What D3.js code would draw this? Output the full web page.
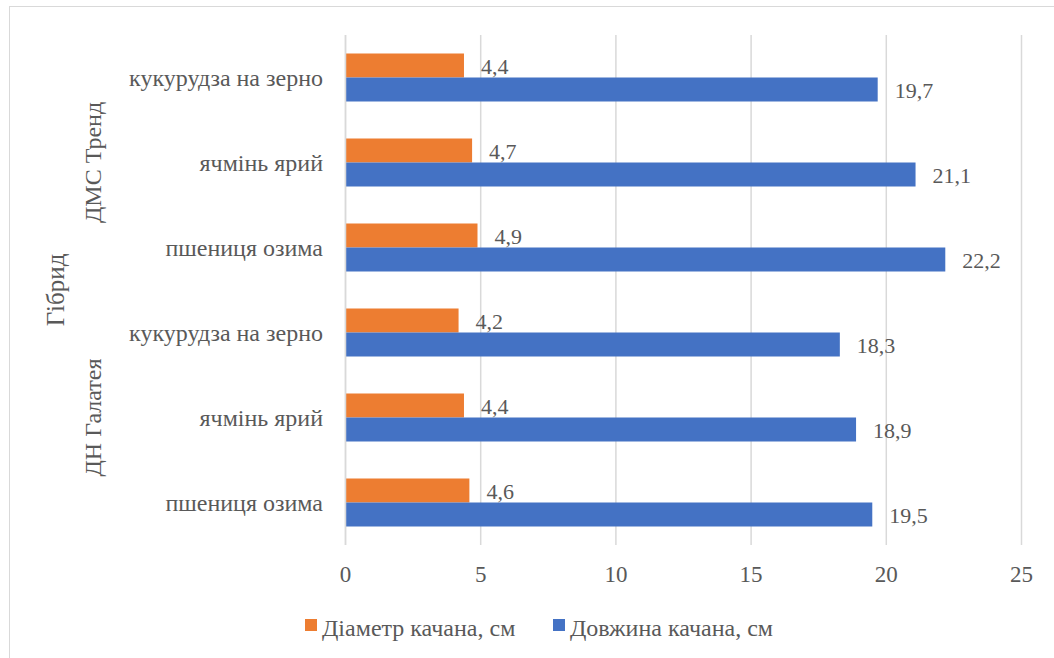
<!DOCTYPE html>
<html>
<head>
<meta charset="utf-8">
<script src="https://cdn.jsdelivr.net/npm/d3@7"></script>
</head>
<body style="margin:0">
<div id="chart"></div>
<script>
// дані з діаграми (згори донизу)
const groups = ["ДМС Тренд", "ДН Галатея"];
const crops = ["кукурудза на зерно", "ячмінь ярий", "пшениця озима"];
const diameter = [4.4, 4.7, 4.9, 4.2, 4.4, 4.6];
const lengthVals = [19.7, 21.1, 22.2, 18.3, 18.9, 19.5];
const xTicks = [0, 5, 10, 15, 20, 25];
const seriesNames = ["Діаметр качана, см", "Довжина качана, см"];
const colors = ["#ED7D31", "#4472C4"];

const FONT = "'Liberation Serif', Tinos, serif";
const TXT = "#595959";
const width = 1054, height = 658;
const margin = { top: 35, left: 345, right: 33, bottom: 113 };

const svg = d3.select("#chart").append("svg")
    .attr("width", width)
    .attr("height", height);

// рамка
svg.append("rect")
    .attr("x", 9.5).attr("y", 6.5)
    .attr("width", width).attr("height", height)
    .attr("fill", "none")
    .attr("stroke", "#d9d9d9");

const rows = [];
groups.forEach((g, gi) => crops.forEach((c, ci) => {
    const i = gi * crops.length + ci;
    rows.push({ id: i, group: g, crop: c, values: [diameter[i], lengthVals[i]] });
}));

const x = d3.scaleLinear()
    .domain([0, 25])
    .range([margin.left, width - margin.right]);

const y = d3.scaleBand()
    .domain(rows.map(d => d.id))
    .range([margin.top, height - margin.bottom]);

const inner = d3.scaleBand()
    .domain([0, 1])
    .range([0, 48]);

// сітка
svg.append("g")
    .selectAll("line")
    .data(xTicks)
    .join("line")
    .attr("x1", d => x(d) + 0.5).attr("x2", d => x(d) + 0.5)
    .attr("y1", margin.top).attr("y2", height - margin.bottom)
    .attr("stroke", "#d9d9d9")
    .attr("stroke-width", 1.5);

// підписи осі X
const xAxis = svg.append("g")
    .attr("transform", `translate(0,${height - margin.bottom})`)
    .call(d3.axisBottom(x).tickValues(xTicks).tickSize(0).tickPadding(21));
xAxis.attr("font-family", FONT).attr("font-size", 23);
xAxis.select(".domain").remove();
xAxis.selectAll("text")
    .attr("font-family", FONT)
    .attr("font-size", 23)
    .attr("fill", TXT);

// стовпці
const rowG = svg.append("g")
    .selectAll("g")
    .data(rows)
    .join("g")
    .attr("transform", d => `translate(0,${y(d.id) + (y.bandwidth() - 48) / 2})`);

rowG.selectAll("rect")
    .data(d => d.values.map((v, k) => ({ v, k })))
    .join("rect")
    .attr("x", x(0))
    .attr("y", d => inner(d.k))
    .attr("width", d => x(d.v) - x(0))
    .attr("height", inner.bandwidth())
    .attr("fill", d => colors[d.k]);

rowG.selectAll("text.val")
    .data(d => d.values.map((v, k) => ({ v, k })))
    .join("text")
    .attr("class", "val")
    .attr("x", d => x(d.v) + 17)
    .attr("y", d => inner(d.k) + inner.bandwidth() / 2 + 8)
    .attr("font-family", FONT)
    .attr("font-size", 22)
    .attr("fill", TXT)
    .text(d => d.v.toFixed(1).replace(".", ","));

// вісь 0
svg.append("line")
    .attr("x1", x(0) + 0.5).attr("x2", x(0) + 0.5)
    .attr("y1", margin.top).attr("y2", height - margin.bottom)
    .attr("stroke", "#d9d9d9")
    .attr("stroke-width", 1.5);

// підписи категорій
svg.append("g")
    .selectAll("text")
    .data(rows)
    .join("text")
    .attr("x", 323)
    .attr("y", d => y(d.id) + y.bandwidth() / 2 + 8.5)
    .attr("text-anchor", "end")
    .attr("font-family", FONT)
    .attr("font-size", 24)
    .attr("fill", TXT)
    .text(d => d.crop);

// групи
groups.forEach((g, gi) => {
    const ids = rows.filter(r => r.group === g).map(r => r.id);
    const cy = (y(ids[0]) + y(ids[ids.length - 1]) + y.bandwidth()) / 2;
    svg.append("text")
        .attr("transform", `translate(101,${cy}) rotate(-90)`)
        .attr("text-anchor", "middle")
        .attr("font-family", FONT)
        .attr("font-size", 24)
        .attr("fill", TXT)
        .text(g);
});

svg.append("text")
    .attr("transform", `translate(64,${(margin.top + height - margin.bottom) / 2}) rotate(-90)`)
    .attr("text-anchor", "middle")
    .attr("font-family", FONT)
    .attr("font-size", 25)
    .attr("fill", TXT)
    .text("Гібрид");

// легенда
const legendX = [305, 553];
const legend = svg.append("g")
    .selectAll("g")
    .data(seriesNames)
    .join("g")
    .attr("transform", (d, i) => `translate(${legendX[i]},619)`);
legend.append("rect")
    .attr("width", 12).attr("height", 12)
    .attr("fill", (d, i) => colors[i]);
legend.append("text")
    .attr("x", 17).attr("y", 17)
    .attr("font-family", FONT)
    .attr("font-size", 24)
    .attr("fill", TXT)
    .text(d => d);
</script>
</body>
</html>
